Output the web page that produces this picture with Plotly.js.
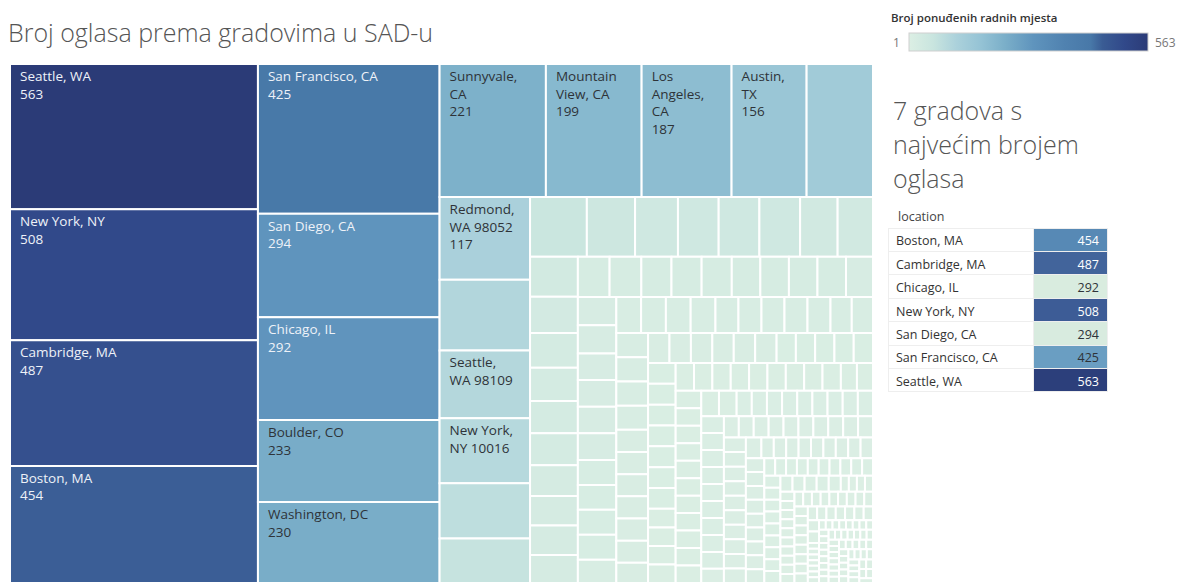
<!DOCTYPE html>
<html>
<head>
<meta charset="utf-8">
<script src="https://cdn.plot.ly/plotly-3.0.1.min.js"></script>
<style>html,body{margin:0;padding:0;background:#fff;}#chart{width:1182px;height:583px;}</style>
</head>
<body>
<div id="chart"></div>
<script>
// ---- Labelled locations ----
const cityNames = ['Seattle, WA','New York, NY','Cambridge, MA','Boston, MA','San Francisco, CA','San Diego, CA','Chicago, IL','Boulder, CO','Washington, DC','Sunnyvale, CA','Mountain View, CA','Los Angeles, CA','Austin, TX','Redmond, WA 98052','Seattle, WA 98109','New York, NY 10016'];
const cityValues = [563,508,487,454,425,294,292,233,230,221,199,187,156,117,96,92];
// label as wrapped in the tile, and whether the count is shown
const cityWrapped = ['Seattle, WA','New York, NY','Cambridge, MA','Boston, MA','San Francisco, CA','San Diego, CA','Chicago, IL','Boulder, CO','Washington, DC','Sunnyvale,<br>CA','Mountain<br>View, CA','Los<br>Angeles,<br>CA','Austin,<br>TX','Redmond,<br>WA 98052','Seattle,<br>WA 98109','New York,<br>NY 10016'];
const cityShowCount = [true,true,true,true,true,true,true,true,true,true,true,true,true,true,false,false];

// ---- Unlabelled locations (sizes estimated from tile areas) ----
const otherValues = [138,100,78,63,53,45,40,38,38,38,35,33,30,
 27,26,25,24,24,23,22,22,21,20,20,19,19,19,18,18,18,18,17,17,17,16,16,16,16,15,15,15,15,
 14,14,14,14,14,13,13,13,13,13,12,12,12,12,12,12,11,11,11,11,11,11,10,10,10,10,10,10,10,
 9,9,9,9,9,9,9,9,9,9,9,9,
 8,8,8,8,8,8,8,8,8,8,8,8,8,
 7,7,7,7,7,7,7,7,7,7,7,7,7,7,7,
 6,6,6,6,6,6,6,6,6,6,6,6,6,6,6,6,6,6,
 5,5,5,5,5,5,5,5,5,5,5,5,5,5,5,5,5,5,5,5,5,5,
 4,4,4,4,4,4,4,4,4,4,4,4,4,4,4,4,4,4,
 3,3,3,3,3,3,3,3,3,3,3,3,3,3,3,3,3,3,3,3,3,3,3,3,
 2,2,2,2,2,2,2,2,2,2,2,2,2,2,2,2,2,2,2,2,2,2,2,2,2,2,2,2,2,2,2,2,2,2,2,2,2,2,2,2,
 1,1,1,1,1,1,1,1,1,1,1,1,1,1,1,1,1,1,1,1,1,1,1,1,1,1,1,1,1,1,1,1,1,1,1,1,1,1,1,1,1,1,1,1,1,1,1,1,1,1,1,1,1,1,1,1,1,1,1,1];

// ---- Top-7 table ----
const topCities = ['Boston, MA','Cambridge, MA','Chicago, IL','New York, NY','San Diego, CA','San Francisco, CA','Seattle, WA'];
const topValues = [454,487,292,508,294,425,563];

const legendTitle = 'Broj ponuđenih radnih mjesta';
const legendMin = 1, legendMax = 563;
const chartTitle = 'Broj oglasa prema gradovima u SAD-u';
const sideTitleLines = ['7 gradova s','najvećim brojem','oglasa'];

const scale = [[0,'#dcefe4'],[0.1,'#c9e5df'],[0.2,'#abd1db'],[0.3,'#95c3d5'],[0.4,'#7bafc9'],[0.52,'#5f94bd'],[0.65,'#5082b0'],[0.76,'#4878a8'],[0.81,'#3a5c94'],[0.9,'#31498a'],[1,'#2b3b77']];
const tableScale = [[0,'#d9ecdf'],[0.3,'#a9cfdb'],[0.49,'#6a9ec2'],[0.6,'#5789b5'],[0.72,'#42649b'],[0.8,'#3d5c96'],[1,'#2c3f7b']];

function hex2rgb(h){return [parseInt(h.slice(1,3),16),parseInt(h.slice(3,5),16),parseInt(h.slice(5,7),16)];}
function colorAt(sc,t){
  t=Math.max(0,Math.min(1,t));
  for(let i=1;i<sc.length;i++){
    if(t<=sc[i][0]){
      const a=sc[i-1],b=sc[i];const f=(t-a[0])/(b[0]-a[0]);
      const ca=hex2rgb(a[1]),cb=hex2rgb(b[1]);
      return 'rgb('+ca.map((c,k)=>Math.round(c+(cb[k]-c)*f)).join(',')+')';
    }
  }
  return sc[sc.length-1][1];
}
const IND='\u00a0\u00a0';
function indent(s){return s.split('<br>').map(l=>IND+l).join('<br>');}

const ids=[],labels=[],parents=[],values=[],texts=[],templates=[],txtColors=[];
cityNames.forEach((n,i)=>{
  ids.push('c'+i);labels.push(n);parents.push('');values.push(cityValues[i]);
  texts.push(indent(cityWrapped[i]));
  templates.push(cityShowCount[i]?'%{text}<br>'+IND+'%{value}':'%{text}');
  txtColors.push(cityValues[i]>=260?'#eef2f8':'#2e3338');
});
otherValues.forEach((v,i)=>{
  ids.push('o'+i);labels.push('');parents.push('');values.push(v);
  texts.push('');templates.push('');txtColors.push('#2e3338');
});

const W=1182,H=583;
const treemap={
  type:'treemap',ids:ids,labels:labels,parents:parents,values:values,text:texts,
  texttemplate:templates,textinfo:'text',textposition:'top left',
  textfont:{family:'Open Sans, sans-serif',size:13.5,color:txtColors},
  branchvalues:'remainder',sort:true,
  tiling:{packing:'squarify',squarifyratio:1.5,pad:0},
  pathbar:{visible:false},
  marker:{colors:values,colorscale:scale,cmin:legendMin,cmax:legendMax,
    line:{color:'#ffffff',width:2},pad:{t:0,l:0,r:0,b:0},depthfade:false,
    showscale:true,
    colorbar:{orientation:'h',x:1028.5/W,xanchor:'center',y:1-33/H,yanchor:'top',
      len:239,lenmode:'pixels',thickness:18,thicknessmode:'pixels',
      outlinewidth:1,outlinecolor:'#cfcfcf',showticklabels:false,ticks:'',xpad:0,ypad:0}},
  hoverinfo:'label+value',
  domain:{x:[10/W,873/W],y:[0,1-64/H]}
};

const tMin=Math.min(...topValues),tMax=Math.max(...topValues);
const cellColors=topValues.map(v=>colorAt(tableScale,(v-tMin)/(tMax-tMin)));
const cellText=topValues.map(v=>(v>=440?'#ffffff':'#2e3338'));
const table={
  type:'table',columnwidth:[146,74],
  domain:{x:[888/W,1108/W],y:[1-397/H,1-205/H]},
  header:{values:[[''],['']],align:['left','left'],height:23,
    fill:{color:'#ffffff'},line:{color:'#ffffff',width:0},
    font:{family:'Open Sans, sans-serif',size:12,color:'#444'}},
  cells:{values:[topCities,topValues],align:['left','right'],height:23.4,
    fill:{color:[topCities.map(()=>'#ffffff'),cellColors]},
    line:{color:'#eeeeee',width:1},
    font:{family:'Open Sans, sans-serif',size:12.5,color:[topCities.map(()=>'#333333'),cellText]}}
};

const ann=[
  {text:legendTitle,x:889/W,y:1-18/H,xanchor:'left',yanchor:'middle',font:{family:'Open Sans, sans-serif',size:11.5,color:'#333',weight:600}},
  {text:String(legendMin),x:896/W,y:1-42/H,xanchor:'center',yanchor:'middle',font:{family:'Open Sans, sans-serif',size:12,color:'#777'}},
  {text:String(legendMax),x:1153/W,y:1-42/H,xanchor:'left',yanchor:'middle',font:{family:'Open Sans, sans-serif',size:12,color:'#777'}},
  {text:'location',x:896/W,y:1-217/H,xanchor:'left',yanchor:'middle',font:{family:'Open Sans, sans-serif',size:12.5,color:'#444'}}
];
[110,144,178].forEach((yy,i)=>ann.push({text:sideTitleLines[i],x:891/W,y:1-yy/H,xanchor:'left',yanchor:'middle',
  font:{family:'Open Sans, sans-serif',size:25,color:'#555',weight:300}}));
ann.forEach(a=>{a.xref='paper';a.yref='paper';a.showarrow=false;a.align='left';});

const layout={
  width:W,height:H,margin:{l:0,r:0,t:0,b:0},paper_bgcolor:'#ffffff',
  title:{text:chartTitle,x:8/W,xanchor:'left',y:1-33/H,yanchor:'middle',xref:'container',yref:'container',
    font:{family:'Open Sans, sans-serif',size:25,color:'#555',weight:300}},
  annotations:ann,showlegend:false
};
Plotly.newPlot('chart',[treemap,table],layout,{displayModeBar:false,staticPlot:true});
</script>
</body>
</html>
